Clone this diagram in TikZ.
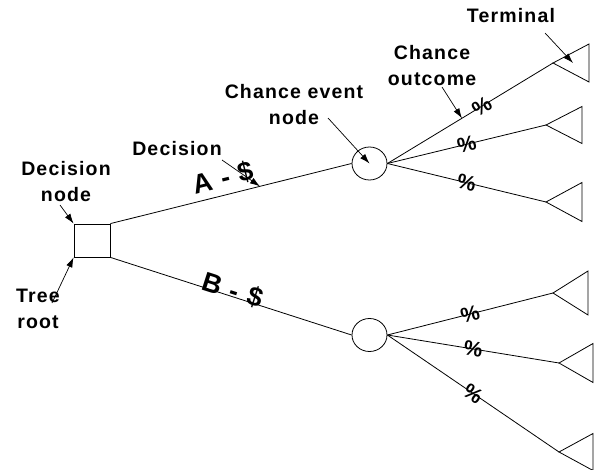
\documentclass[tikz,border=0pt]{standalone}
\usepackage{fontspec}
\usetikzlibrary{shapes.geometric,arrows.meta}
\newfontfamily\lblfont[LetterSpace=6]{Liberation Sans}

% terminal (payoff) triangle: tip name, tip point, width, half height
\newcommand\termtri[4]{%
  \coordinate (#1) at (#2);
  \draw[tri] (#1) -- ++(#3,-#4) -- ++(0,{2*#4}) -- cycle;}

\begin{document}
\begin{tikzpicture}[x=1pt,y=-1pt,line width=0.8pt,
  decbox/.style={draw,rectangle,minimum width=36pt,minimum height=33pt,inner sep=0pt},
  chance/.style={draw,ellipse,minimum width=35pt,minimum height=33pt,inner sep=0pt},
  tri/.style={line join=miter},
  lbl/.style={font=\lblfont\bfseries\fontsize{19.5}{26}\selectfont,align=center,inner sep=0pt},
  bigl/.style={font=\lblfont\bfseries\fontsize{27}{30}\selectfont,inner sep=0pt,sloped,anchor=base},
  pct/.style={font=\lblfont\bfseries\fontsize{21}{22}\selectfont,inner sep=0pt,sloped},
  pointer/.style={-{Latex[length=10pt,width=6.5pt]},line width=0.7pt}]
\useasboundingbox (0,0) rectangle (599,470);

% decision and chance nodes
\node[decbox] (sq) at (92,240.5) {};
\node[chance] (ca) at (369.5,163.5) {};
\node[chance] (cb) at (369.5,335) {};

% terminal triangles
\termtri{ta1}{553,63}{36}{19}
\termtri{ta2}{546,125}{36}{18.5}
\termtri{ta3}{546,202}{36}{19.5}
\termtri{tb1}{553,293}{35}{22}
\termtri{tb2}{559,363}{34}{19.5}
\termtri{tb3}{559,452}{34}{18.5}

% decision branches
\draw (sq.north east) -- (ca.west)
  node[bigl,pos=0.485,yshift=8pt] {A - \$}
  coordinate[pos=0.62] (decTip);
\draw (sq.south east) -- (cb.west)
  node[bigl,pos=0.5,yshift=-3pt] {B - \$};

% chance outcomes
\draw (ca.east) -- (ta1) node[pct,pos=0.57] {\%} coordinate[pos=0.45] (outTip);
\draw (ca.east) -- (ta2) node[pct,pos=0.5] {\%};
\draw (ca.east) -- (ta3) node[pct,pos=0.5] {\%};
\draw (cb.east) -- (tb1) node[pct,pos=0.5] {\%};
\draw (cb.east) -- (tb2) node[pct,pos=0.5] {\%};
\draw (cb.east) -- (tb3) node[pct,pos=0.5] {\%};

% labels
\node[lbl] (lDecNode) at (66,182) {Decision\\node};
\node[lbl] (lRoot) at (38,309) {Tree\\root};
\node[lbl] (lDec) at (177,149) {Decision};
\node[lbl] (lChance) at (294,105) {Chance event\\node};
\node[lbl] (lOut) at (432,66) {Chance\\outcome};
\node[lbl] (lTerm) at (511,16) {Terminal};

% pointers
\coordinate (pDecNode) at (60,205);
\coordinate (pRoot) at (52,303);
\coordinate (pDec) at (222,160);
\coordinate (pChance) at (328,118);
\coordinate (pOut) at (442,87);
\coordinate (pTerm) at (545,33);
\coordinate (termMid) at (573,63);
\draw[pointer] (pDecNode) -- (sq.north west);
\draw[pointer] (pRoot) -- (sq.south west);
\draw[pointer] (pDec) -- (decTip);
\draw[pointer] (pChance) -- (ca.center);
\draw[pointer] (pOut) -- (outTip);
\draw[pointer] (pTerm) -- (termMid);
\end{tikzpicture}
\end{document}
